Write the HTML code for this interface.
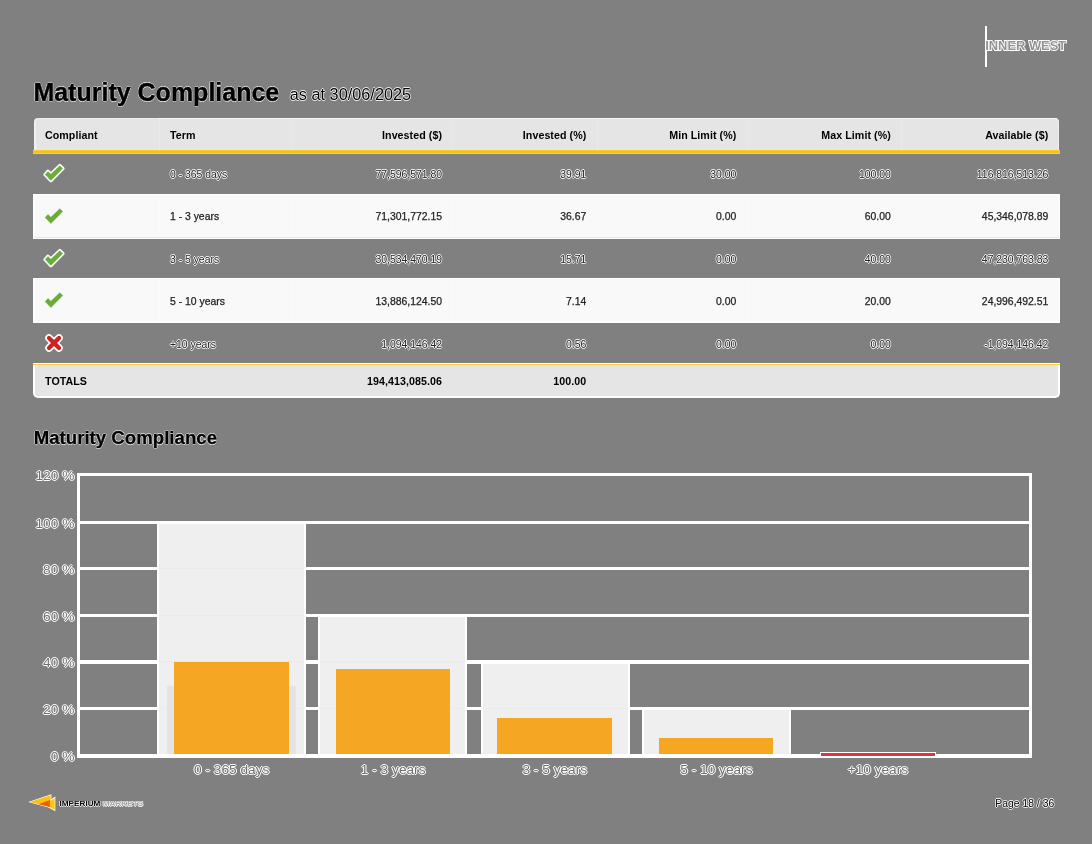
<!DOCTYPE html>
<html>
<head>
<meta charset="utf-8">
<title>Maturity Compliance</title>
<style>
html,body{margin:0;padding:0;}
body{width:1092px;height:844px;overflow:hidden;background:#808080;font-family:"Liberation Sans",sans-serif;color:#000;position:relative;}
.abs{position:absolute;white-space:nowrap;line-height:1;}
.halo{text-shadow:0.7px 0 0 rgba(255,255,255,.85),-0.7px 0 0 rgba(255,255,255,.85),0 0.7px 0 rgba(255,255,255,.85),0 -0.7px 0 rgba(255,255,255,.85);}
.halos{-webkit-text-stroke:0.5px #000;paint-order:stroke fill;text-shadow:0.8px 0 0 #fff,-0.8px 0 0 #fff,0 0.8px 0 #fff,0 -0.8px 0 #fff;}
.halo2{text-shadow:1px 0 0 #fff,-1px 0 0 #fff,0 1px 0 #fff,0 -1px 0 #fff,0 0 1px #fff;}
#title{left:33.4px;top:80.2px;font-size:25px;font-weight:bold;-webkit-text-stroke:0.45px #000;}
#asat{left:289.8px;top:86.1px;font-size:16.3px;}
#ctitle{left:33.7px;top:429.2px;font-size:18.65px;font-weight:bold;-webkit-text-stroke:0.35px #000;}
#thead{left:33.8px;top:117.8px;width:1025.7px;height:33px;background:#e5e5e5;border-radius:4px 4px 0 0;box-sizing:border-box;border-left:2px solid #f1f1f1;border-top:1px solid #ececec;border-right:1.5px solid #efefef;}
#yl1{left:33px;top:150.3px;width:1027px;height:3.3px;background:linear-gradient(#fbd24d 0,#f7c10f 30%,#f7c10f 75%,#fbe08a 100%);}
.wrow{left:33px;width:1027px;height:45px;background:#f9f9f9;box-sizing:border-box;border:1px solid #fff;border-bottom:2px solid #fff;}
#tfoot{left:33px;top:363px;width:1027.2px;height:35.2px;background:#e5e5e5;box-sizing:border-box;border:2px solid #fff;border-bottom-width:2.8px;border-top:0;border-radius:0 0 5px 5px;}
#yl2{left:33px;top:362.8px;width:1027px;height:2.7px;background:#fbd043;border-top:0.8px solid #fff;box-sizing:border-box;}
.th{font-size:10.67px;font-weight:bold;letter-spacing:0.06px;}
.td{font-size:10.4px;color:#222;-webkit-text-stroke:0.25px #222;}
.ax{font-size:13.7px;color:#707070;}
.gl{left:77px;width:955px;height:3px;background:#fff;}
.mx{background:#efefef;box-sizing:border-box;border-left:2.5px solid #fff;border-right:2.5px solid #fff;}
.or{background:#f5a623;}
</style>
</head>
<body><div id="wrap" style="position:absolute;left:0;top:0;width:1092px;height:844px;will-change:transform;">
<div class="abs" style="left:985px;top:26px;width:2px;height:41px;background:#fff;"></div>
<div class="abs" style="left:985.2px;top:40.2px;font-size:12.9px;font-weight:bold;color:#fff;-webkit-text-stroke:1.8px #fff;">INNER WEST</div>
<div class="abs" style="left:985.2px;top:40.2px;font-size:12.9px;font-weight:bold;color:rgba(40,40,40,0.5);">INNER WEST</div>
<div class="abs halo" id="title">Maturity Compliance</div>
<div class="abs halo" id="asat">as at 30/06/2025</div>
<div class="abs" id="thead"></div>
<div class="abs" style="left:158.5px;top:117.8px;width:898px;height:1.6px;background:#fafafa;"></div>
<div class="abs" id="yl1"></div>
<div class="abs wrow" style="top:194px;border-bottom-width:1px;box-shadow:inset 0 -1px 0 #e6e6e6;"></div>
<div class="abs wrow" style="top:278px;"></div>
<div class="abs" id="tfoot"></div>
<div class="abs" id="yl2"></div>
<div class="abs" style="left:158.5px;top:119px;width:1px;height:31.5px;background:rgba(255,255,255,0.15);"></div>
<div class="abs" style="left:158.5px;top:195px;width:1px;height:42px;background:rgba(255,255,255,0.3);"></div>
<div class="abs" style="left:158.5px;top:279px;width:1px;height:42px;background:rgba(255,255,255,0.3);"></div>
<div class="abs" style="left:292px;top:119px;width:1px;height:31.5px;background:rgba(255,255,255,0.15);"></div>
<div class="abs" style="left:292px;top:195px;width:1px;height:42px;background:rgba(255,255,255,0.3);"></div>
<div class="abs" style="left:292px;top:279px;width:1px;height:42px;background:rgba(255,255,255,0.3);"></div>
<div class="abs" style="left:452px;top:119px;width:1px;height:31.5px;background:rgba(255,255,255,0.15);"></div>
<div class="abs" style="left:452px;top:195px;width:1px;height:42px;background:rgba(255,255,255,0.3);"></div>
<div class="abs" style="left:452px;top:279px;width:1px;height:42px;background:rgba(255,255,255,0.3);"></div>
<div class="abs" style="left:596.5px;top:119px;width:1px;height:31.5px;background:rgba(255,255,255,0.15);"></div>
<div class="abs" style="left:596.5px;top:195px;width:1px;height:42px;background:rgba(255,255,255,0.3);"></div>
<div class="abs" style="left:596.5px;top:279px;width:1px;height:42px;background:rgba(255,255,255,0.3);"></div>
<div class="abs" style="left:747px;top:119px;width:1px;height:31.5px;background:rgba(255,255,255,0.15);"></div>
<div class="abs" style="left:747px;top:195px;width:1px;height:42px;background:rgba(255,255,255,0.3);"></div>
<div class="abs" style="left:747px;top:279px;width:1px;height:42px;background:rgba(255,255,255,0.3);"></div>
<div class="abs" style="left:901px;top:119px;width:1px;height:31.5px;background:rgba(255,255,255,0.15);"></div>
<div class="abs" style="left:901px;top:195px;width:1px;height:42px;background:rgba(255,255,255,0.3);"></div>
<div class="abs" style="left:901px;top:279px;width:1px;height:42px;background:rgba(255,255,255,0.3);"></div>
<div class="abs th" style="left:45.0px;top:129.7px;">Compliant</div>
<div class="abs th" style="left:170.0px;top:129.7px;">Term</div>
<div class="abs th" style="right:650.0px;top:129.7px;">Invested ($)</div>
<div class="abs th" style="right:505.7px;top:129.7px;">Invested (%)</div>
<div class="abs th" style="right:355.7px;top:129.7px;">Min Limit (%)</div>
<div class="abs th" style="right:201.2px;top:129.7px;">Max Limit (%)</div>
<div class="abs th" style="right:43.7px;top:129.7px;">Available ($)</div>
<svg class="abs" style="left:42.90px;top:163.10px;" width="22" height="20" viewBox="0 0 22 20"><polygon points="16.8,2.7 19.7,5.6 7.9,17.4 2.2,11.6 4.95,8.5 7.9,11.3" fill="#fff" stroke="#fff" stroke-width="3.6" stroke-linejoin="round"/><polygon points="16.8,2.7 19.7,5.6 7.9,17.4 2.2,11.6 4.95,8.5 7.9,11.3" fill="#69ac37" stroke="#69ac37" stroke-width="0.5" stroke-linejoin="round"/></svg>
<div class="abs td halos" style="left:170.0px;top:169.8px;">0 - 365 days</div>
<div class="abs td halos" style="right:650.0px;top:169.8px;">77,596,571.80</div>
<div class="abs td halos" style="right:505.7px;top:169.8px;">39.91</div>
<div class="abs td halos" style="right:355.7px;top:169.8px;">30.00</div>
<div class="abs td halos" style="right:201.2px;top:169.8px;">100.00</div>
<div class="abs td halos" style="right:43.7px;top:169.8px;">116,816,513.26</div>
<svg class="abs" style="left:42.90px;top:205.52px;" width="22" height="20" viewBox="0 0 22 20"><polygon points="16.8,2.7 19.7,5.6 7.9,17.4 2.2,11.6 4.95,8.5 7.9,11.3" fill="#69ac37" stroke="#69ac37" stroke-width="0.5" stroke-linejoin="round"/></svg>
<div class="abs td" style="left:170.0px;top:211.9px;">1 - 3 years</div>
<div class="abs td" style="right:650.0px;top:211.9px;">71,301,772.15</div>
<div class="abs td" style="right:505.7px;top:211.9px;">36.67</div>
<div class="abs td" style="right:355.7px;top:211.9px;">0.00</div>
<div class="abs td" style="right:201.2px;top:211.9px;">60.00</div>
<div class="abs td" style="right:43.7px;top:211.9px;">45,346,078.89</div>
<svg class="abs" style="left:42.90px;top:247.94px;" width="22" height="20" viewBox="0 0 22 20"><polygon points="16.8,2.7 19.7,5.6 7.9,17.4 2.2,11.6 4.95,8.5 7.9,11.3" fill="#fff" stroke="#fff" stroke-width="3.6" stroke-linejoin="round"/><polygon points="16.8,2.7 19.7,5.6 7.9,17.4 2.2,11.6 4.95,8.5 7.9,11.3" fill="#69ac37" stroke="#69ac37" stroke-width="0.5" stroke-linejoin="round"/></svg>
<div class="abs td halos" style="left:170.0px;top:254.8px;">3 - 5 years</div>
<div class="abs td halos" style="right:650.0px;top:254.8px;">30,534,470.19</div>
<div class="abs td halos" style="right:505.7px;top:254.8px;">15.71</div>
<div class="abs td halos" style="right:355.7px;top:254.8px;">0.00</div>
<div class="abs td halos" style="right:201.2px;top:254.8px;">40.00</div>
<div class="abs td halos" style="right:43.7px;top:254.8px;">47,230,763.83</div>
<svg class="abs" style="left:42.90px;top:290.36px;" width="22" height="20" viewBox="0 0 22 20"><polygon points="16.8,2.7 19.7,5.6 7.9,17.4 2.2,11.6 4.95,8.5 7.9,11.3" fill="#69ac37" stroke="#69ac37" stroke-width="0.5" stroke-linejoin="round"/></svg>
<div class="abs td" style="left:170.0px;top:296.9px;">5 - 10 years</div>
<div class="abs td" style="right:650.0px;top:296.9px;">13,886,124.50</div>
<div class="abs td" style="right:505.7px;top:296.9px;">7.14</div>
<div class="abs td" style="right:355.7px;top:296.9px;">0.00</div>
<div class="abs td" style="right:201.2px;top:296.9px;">20.00</div>
<div class="abs td" style="right:43.7px;top:296.9px;">24,996,492.51</div>
<svg class="abs" style="left:43.45px;top:331.60px;" width="22" height="22" viewBox="0 0 22 22"><path d="M6.0,6.0L16.0,16.0M16.0,6.0L6.0,16.0" stroke="#fff" stroke-width="7.5" stroke-linecap="round" fill="none"/><path d="M6.0,6.0L16.0,16.0M16.0,6.0L6.0,16.0" stroke="#cc2222" stroke-width="4.3" stroke-linecap="round" fill="none"/></svg>
<div class="abs td halos" style="left:170.0px;top:339.8px;">+10 years</div>
<div class="abs td halos" style="right:650.0px;top:339.8px;">1,094,146.42</div>
<div class="abs td halos" style="right:505.7px;top:339.8px;">0.56</div>
<div class="abs td halos" style="right:355.7px;top:339.8px;">0.00</div>
<div class="abs td halos" style="right:201.2px;top:339.8px;">0.00</div>
<div class="abs td halos" style="right:43.7px;top:339.8px;">-1,094,146.42</div>
<div class="abs th" style="left:45.0px;top:375.9px;">TOTALS</div>
<div class="abs th" style="right:650.0px;top:375.9px;">194,413,085.06</div>
<div class="abs th" style="right:505.7px;top:375.9px;">100.00</div>
<div class="abs halo" id="ctitle">Maturity Compliance</div>
<div class="abs gl" style="top:754.0px;height:3.5px;"></div>
<div class="abs gl" style="top:707.0px;height:3.0px;"></div>
<div class="abs gl" style="top:660.3px;height:3.5px;"></div>
<div class="abs gl" style="top:614.0px;height:3.0px;"></div>
<div class="abs gl" style="top:567.0px;height:3.0px;"></div>
<div class="abs gl" style="top:521.0px;height:3.0px;"></div>
<div class="abs gl" style="top:473.0px;height:3.0px;"></div>
<div class="abs" style="left:77px;top:473px;width:3px;height:284px;background:#fff;"></div>
<div class="abs" style="left:1029.2px;top:473px;width:3.2px;height:284.5px;background:#fff;"></div>
<div class="abs mx" style="left:157.3px;top:524.0px;width:148.8px;height:230.0px;"></div>
<div class="abs" style="left:159.3px;top:708.00px;width:144.6px;height:1px;background:#eaeaea;"></div>
<div class="abs" style="left:159.3px;top:661.30px;width:144.6px;height:1px;background:#eaeaea;"></div>
<div class="abs" style="left:159.3px;top:615.00px;width:144.6px;height:1px;background:#eaeaea;"></div>
<div class="abs" style="left:159.3px;top:568.00px;width:144.6px;height:1px;background:#eaeaea;"></div>
<div class="abs" style="left:166.7px;top:685.7px;width:129.2px;height:68.3px;background:#e4e4e4;"></div>
<div class="abs or" style="left:174.2px;top:661.6px;width:114.4px;height:92.7px;"></div>
<div class="abs mx" style="left:318.3px;top:617.0px;width:148.8px;height:137.0px;"></div>
<div class="abs" style="left:320.3px;top:708.00px;width:144.6px;height:1px;background:#eaeaea;"></div>
<div class="abs" style="left:320.3px;top:661.30px;width:144.6px;height:1px;background:#eaeaea;"></div>
<div class="abs or" style="left:335.8px;top:669.2px;width:114.4px;height:85.1px;"></div>
<div class="abs mx" style="left:481.0px;top:663.8px;width:148.8px;height:90.2px;"></div>
<div class="abs" style="left:483.0px;top:708.00px;width:144.6px;height:1px;background:#eaeaea;"></div>
<div class="abs or" style="left:497.3px;top:718.3px;width:114.4px;height:36.0px;"></div>
<div class="abs mx" style="left:642.0px;top:710.0px;width:148.8px;height:44.0px;"></div>
<div class="abs or" style="left:658.9px;top:738.4px;width:114.4px;height:15.9px;"></div>
<div class="abs" style="left:819.7px;top:752.3px;width:116.4px;height:5.2px;background:#fff;"></div>
<div class="abs" style="left:820.7px;top:753.2px;width:114.4px;height:3.2px;background:#d9363e;"></div>
<div class="abs ax halo2" style="right:1017.7px;top:749.7px;">0 %</div>
<div class="abs ax halo2" style="right:1017.7px;top:702.7px;">20 %</div>
<div class="abs ax halo2" style="right:1017.7px;top:656.0px;">40 %</div>
<div class="abs ax halo2" style="right:1017.7px;top:609.7px;">60 %</div>
<div class="abs ax halo2" style="right:1017.7px;top:562.7px;">80 %</div>
<div class="abs ax halo2" style="right:1017.7px;top:516.7px;">100 %</div>
<div class="abs ax halo2" style="right:1017.7px;top:468.7px;">120 %</div>
<div class="abs ax halo2" style="left:131.7px;width:200px;text-align:center;top:762.9px;">0 - 365 days</div>
<div class="abs ax halo2" style="left:293.2px;width:200px;text-align:center;top:762.9px;">1 - 3 years</div>
<div class="abs ax halo2" style="left:454.8px;width:200px;text-align:center;top:762.9px;">3 - 5 years</div>
<div class="abs ax halo2" style="left:616.4px;width:200px;text-align:center;top:762.9px;">5 - 10 years</div>
<div class="abs ax halo2" style="left:777.9px;width:200px;text-align:center;top:762.9px;">+10 years</div>
<svg class="abs" style="left:26px;top:792px;" width="34" height="22" viewBox="26 792 34 22"><polygon points="43,804.5 55.3,796.6 55.3,811.2" fill="#fff"/><polygon points="28.2,801.9 51.4,794.3 51.4,808.2" fill="#fff"/><polygon points="45,804.5 54.7,798 54.7,810" fill="#fcc419"/><polygon points="29.5,801.9 50.7,795.3 50.7,807.3" fill="#fbc30f"/><polygon points="38.5,804.2 49.9,800 49.9,807.1" fill="#f25c05"/></svg>
<div class="abs halo" style="left:59.5px;top:800.2px;font-size:8.2px;font-weight:bold;transform:scaleY(0.8);transform-origin:0 100%;">IMPERIUM <span style="color:#aaa">MARKETS</span></div>
<div class="abs halos" style="right:37.8px;top:799.2px;font-size:10.4px;">Page 18 / 36</div>
</div></body>
</html>
